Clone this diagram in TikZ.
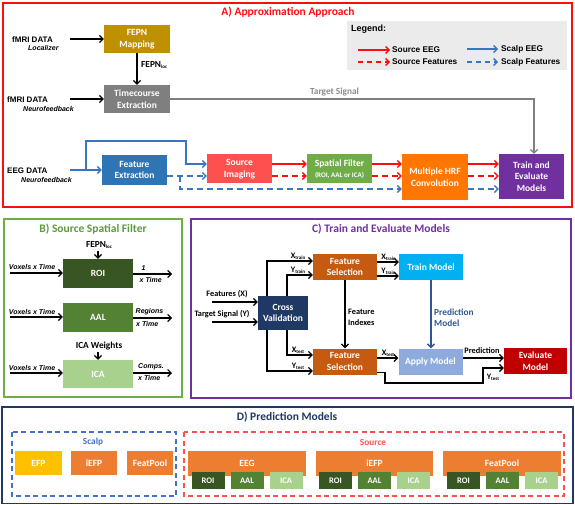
\documentclass[tikz,border=0pt]{standalone}
\usepackage{fontspec}
\setmainfont{Carlito}
\newfontfamily\arialf{Liberation Sans}
\usetikzlibrary{arrows.meta}
\definecolor{cRed}{HTML}{FF0D0D}
\definecolor{cFEPN}{HTML}{BF9000}
\definecolor{cTC}{HTML}{7F7F7F}
\definecolor{cGrayT}{HTML}{8C8C8C}
\definecolor{cFE}{HTML}{2E75B6}
\definecolor{cSI}{HTML}{FF5050}
\definecolor{cSF}{HTML}{70AD47}
\definecolor{cHRF}{HTML}{FF7700}
\definecolor{cTE}{HTML}{7030A0}
\definecolor{cLeg}{HTML}{EBEBEB}
\definecolor{cBlue}{HTML}{3A75C4}
\definecolor{cGreenT}{HTML}{5B9B3C}
\definecolor{cROI}{HTML}{375623}
\definecolor{cAAL}{HTML}{548235}
\definecolor{cICA}{HTML}{A9D18E}
\definecolor{cCV}{HTML}{203864}
\definecolor{cFS}{HTML}{C55A11}
\definecolor{cTM}{HTML}{00B0F0}
\definecolor{cAM}{HTML}{8FAADC}
\definecolor{cEV}{HTML}{C00000}
\definecolor{cDBlue}{HTML}{2F5597}
\definecolor{cNavy}{HTML}{203864}
\definecolor{cScalp}{HTML}{4472C4}
\definecolor{cEFP}{HTML}{FFC000}
\definecolor{cOr}{HTML}{ED7D31}
\newcommand\bxf{\fontsize{9.5}{11.5}\selectfont\bfseries}
\newcommand\ttlf{\fontsize{11.5}{13}\selectfont\bfseries}
\newcommand\lblf{\fontsize{8.3}{9.5}\selectfont\bfseries}
\newcommand\lblnf{\fontsize{9.3}{10.5}\selectfont\bfseries}
\newcommand\arlf{\arialf\fontsize{8}{9}\selectfont\bfseries}
\newcommand\arilf{\arialf\fontsize{7}{8}\selectfont\bfseries\itshape}
\newcommand\legf{\arialf\fontsize{8.3}{9}\selectfont\bfseries}
\newcommand\sbs[1]{\raisebox{-1.3pt}{\fontsize{5}{5}\selectfont #1}}
\tikzset{
 box/.style={text=white, font=\bxf, align=center, inner sep=0pt, draw=none},
 sbox/.style={box, font=\fontsize{8.5}{9}\selectfont\bfseries, minimum width=33pt, minimum height=17pt},
 tip/.style={-{Straight Barb[length=3.5pt,width=7pt]}},
 blk/.style={tip, line width=1.2pt, black},
 rs/.style={tip, line width=1.4pt, cRed},
 rd/.style={rs, dash pattern=on 6pt off 4pt},
 bs/.style={tip, line width=1.4pt, cBlue},
 bd/.style={bs, dash pattern=on 6pt off 4pt},
 lbl/.style={font=\lblf, inner sep=0pt},
 lbln/.style={font=\lblnf, inner sep=0pt},
 ttl/.style={font=\ttlf, inner sep=0pt},
 alab/.style={font=\arlf, inner sep=0pt, anchor=west},
 ailab/.style={font=\arilf, inner sep=0pt},
}
\begin{document}
\begin{tikzpicture}[x=1pt,y=-1pt]
\useasboundingbox (0,0) rectangle (575,505);
\fill[white] (0,0) rectangle (575,505);

% ===== A =====
\draw[cRed, line width=1.5pt] (3,3) rectangle (572,207);
\node[ttl, text=cRed] (ta) at (288,12) {A) Approximation Approach};

\node[box, fill=cFEPN, minimum width=66pt, minimum height=28pt] (fepn) at (137,39) {FEPN\\Mapping};
\node[box, fill=cTC, minimum width=66pt, minimum height=28pt] (tc) at (137,99) {Timecourse\\Extraction};
\node[box, fill=cFE, minimum width=65pt, minimum height=30pt] (fe) at (134.5,170) {Feature\\Extraction};
\node[box, fill=cSI, minimum width=65pt, minimum height=29pt] (si) at (239.5,169) {Source\\Imaging};
\node[box, fill=cSF, minimum width=65pt, minimum height=29pt] (sf) at (339.5,169) {Spatial Filter\\[-1pt]{\fontsize{7}{8}\selectfont (ROI, AAL or ICA)}};
\node[box, fill=cHRF, minimum width=66pt, minimum height=46pt] (hrf) at (435,177) {Multiple HRF\\Convolution};
\node[box, fill=cTE, minimum width=65pt, minimum height=45pt] (te) at (531.5,176.5) {Train and\\Evaluate\\Models};

\node[alab] (f1) at (12,40) {fMRI DATA};
\node[ailab, anchor=west] (f1b) at (28,48.5) {Localizer};
\node[alab] (f2) at (7,99.5) {fMRI DATA};
\node[ailab, anchor=west] (f2b) at (23,109) {Neurofeedback};
\node[alab] (e1) at (7,171) {EEG DATA};
\node[ailab, anchor=west] (e1b) at (21,179.5) {Neurofeedback};

\coordinate (f1o) at (70,39);
\coordinate (f2o) at (70,99);
\draw[blk] (f1o) -- (fepn);
\draw[blk] (f2o) -- (tc);
\draw[blk] (fepn) -- (tc);
\node[lbln, anchor=west] (fepnl) at (141,65) {FEPN\sbs{loc}};

\coordinate (tg) at (534,99);
\draw[tip, line width=1.2pt, cTC] (tc.east) -- (tg) -- (tg |- te.north);
\node[lbln, text=cGrayT] (tgl) at (334.5,92) {Target Signal};

% legend
\node[fill=cLeg, inner sep=0pt, minimum width=220pt, minimum height=49pt, anchor=north west] (leg) at (347,21) {};
\node[font=\arialf\fontsize{9}{10}\selectfont\bfseries, inner sep=0pt, anchor=west] (legt) at (351,29.5) {Legend:};
\coordinate (l1a) at (358,50); \coordinate (l1b) at (390,50);
\coordinate (l2a) at (358,62); \coordinate (l2b) at (390,62);
\coordinate (l3a) at (467,49); \coordinate (l3b) at (498,49);
\coordinate (l4a) at (467,62); \coordinate (l4b) at (498,62);
\draw[rs] (l1a) -- (l1b);
\draw[rd, dash pattern=on 5pt off 4pt] (l2a) -- (l2b);
\draw[bs] (l3a) -- (l3b);
\draw[bd, dash pattern=on 5pt off 4pt] (l4a) -- (l4b);
\node[font=\legf, inner sep=0pt, anchor=west] (l1t) at (392,50) {Source EEG};
\node[font=\legf, inner sep=0pt, anchor=west] (l2t) at (392,62) {Source Features};
\node[font=\legf, inner sep=0pt, anchor=west] (l3t) at (501,49) {Scalp EEG};
\node[font=\legf, inner sep=0pt, anchor=west] (l4t) at (501,62) {Scalp Features};

% bottom row connectors
\coordinate (ys) at (0,164);
\coordinate (yd) at (0,176);
\coordinate (yb) at (0,189);
\coordinate (e0) at (70,170);
\draw[bs] (e0) -- (fe);
\coordinate (eb1) at (86,170);
\coordinate (eb2) at (86,141);
\coordinate (eb3) at (186,141);
\coordinate (eb4) at (186,164);
\draw[bs] (eb1) -- (eb2) -- (eb3) -- (eb4) -- (si.west |- eb4);
\draw[bd] (fe.east |- yd) -- (si.west |- yd);
\coordinate (bb1) at (180,176);
\coordinate (bb2) at (180,189);
\draw[bd] (bb1) -- (bb2) -- (hrf.west |- yb);
\draw[bd] (hrf.east |- yb) -- (te.west |- yb);
\draw[rs] (si.east |- ys) -- (sf.west |- ys);
\draw[rd] (si.east |- yd) -- (sf.west |- yd);
\draw[rs] (sf.east |- ys) -- (hrf.west |- ys);
\draw[rd] (sf.east |- yd) -- (hrf.west |- yd);
\draw[rs] (hrf.east |- ys) -- (te.west |- ys);
\draw[rd] (hrf.east |- yd) -- (te.west |- yd);

% ===== B =====
\draw[cSF, line width=1.5pt] (4,219) rectangle (182,397);
\node[ttl, text=cGreenT] (tb) at (93,229) {B) Source Spatial Filter};
\node[box, fill=cROI, minimum width=70pt, minimum height=29pt] (roi) at (98,273.5) {ROI};
\node[box, fill=cAAL, minimum width=70pt, minimum height=29pt] (aal) at (98,317.5) {AAL};
\node[box, fill=cICA, minimum width=70pt, minimum height=28pt] (ica) at (98,374) {ICA};
\node[lbln] (bfepn) at (99,245) {FEPN\sbs{loc}};
\node[lbln] (icaw) at (99,346) {ICA Weights};
\coordinate (bf1) at (98,251);
\coordinate (bf2) at (98,352);
\draw[blk] (bf1) -- (roi);
\draw[blk] (bf2) -- (ica);
\node[ailab] (v1) at (32,267) {Voxels x Time};
\node[ailab] (v2) at (32,312) {Voxels x Time};
\node[ailab] (v3) at (32,368) {Voxels x Time};
\coordinate (v1o) at (10,273);
\coordinate (v2o) at (10,317);
\coordinate (v3o) at (10,373);
\draw[blk] (v1o) -- (v1o -| roi.west);
\draw[blk] (v2o) -- (v2o -| aal.west);
\draw[blk] (v3o) -- (v3o -| ica.west);
\coordinate (r1o) at (172,274);
\coordinate (r2o) at (172,318);
\coordinate (r3o) at (172,373);
\draw[blk] (roi.east |- r1o) -- (r1o);
\draw[blk] (aal.east |- r2o) -- (r2o);
\draw[blk] (ica.east |- r3o) -- (r3o);
\node[ailab, anchor=west] (r1a) at (141.5,268) {1};
\node[ailab, anchor=west] (r1b) at (139.5,280) {x Time};
\node[ailab, anchor=west] (r2a) at (135.5,312) {Regions};
\node[ailab, anchor=west] (r2b) at (136,323.5) {x Time};
\node[ailab, anchor=west] (r3a) at (138,367) {Comps.};
\node[ailab, anchor=west] (r3b) at (138,378) {x Time};

% ===== C =====
\draw[cTE, line width=1.8pt] (191,219) rectangle (571,398);
\node[ttl, text=cTE] (tcc) at (381,229) {C) Train and Evaluate Models};
\node[box, fill=cCV, minimum width=50pt, minimum height=34pt] (cv) at (283,313) {Cross\\Validation};
\node[box, fill=cFS, minimum width=64pt, minimum height=26pt] (fs1) at (345,267) {Feature\\Selection};
\node[box, fill=cFS, minimum width=64pt, minimum height=26pt] (fs2) at (345,361.5) {Feature\\Selection};
\node[box, fill=cTM, minimum width=64pt, minimum height=26pt] (tm) at (431,267) {Train Model};
\node[box, fill=cAM, minimum width=64pt, minimum height=26pt] (am) at (430.5,361.5) {Apply Model};
\node[box, fill=cEV, minimum width=63pt, minimum height=26pt] (ev) at (535.5,361) {Evaluate\\Model};

\coordinate (fx) at (212,302);
\coordinate (ty) at (212,322);
\draw[blk] (fx) -- (fx -| cv.west);
\draw[blk] (ty) -- (ty -| cv.west);
\node[lbl] (fxl) at (227,294) {Features (X)};
\node[lbl] (tyl) at (222,314) {Target Signal (Y)};

\coordinate (c1) at (267,261);
\coordinate (c2) at (287,275);
\coordinate (c3) at (287,355);
\coordinate (c4) at (267,371);
\draw[blk] (c1 |- cv.north) -- (c1) -- (c1 -| fs1.west);
\draw[blk] (c2 |- cv.north) -- (c2) -- (c2 -| fs1.west);
\draw[blk] (c3 |- cv.south) -- (c3) -- (c3 -| fs2.west);
\draw[blk] (c4 |- cv.south) -- (c4) -- (c4 -| fs2.west);
\node[lbl] (xtr1) at (298,256.5) {X\sbs{train}};
\node[lbl] (ytr1) at (298,270.5) {Y\sbs{train}};
\node[lbl] (xte1) at (298,350.5) {X\sbs{test}};
\node[lbl] (yte1) at (298,366.5) {Y\sbs{test}};

\draw[blk] (fs1) -- (fs2);
\node[lbl, anchor=west] (fil1) at (348,312) {Feature};
\node[lbl, anchor=west] (fil2) at (348,322.5) {Indexes};

\coordinate (t1) at (0,262);
\coordinate (t2) at (0,276);
\coordinate (t3) at (0,358);
\draw[blk] (fs1.east |- t1) -- (tm.west |- t1);
\draw[blk] (fs1.east |- t2) -- (tm.west |- t2);
\node[lbl] (xtr2) at (388.5,257) {X\sbs{train}};
\node[lbl] (ytr2) at (388.5,271) {Y\sbs{train}};
\draw[tip, line width=1.4pt, cDBlue] (tm) -- (tm |- am.north);
\node[lbln, text=cDBlue, anchor=west] (pm1) at (434,312) {Prediction};
\node[lbln, text=cDBlue, anchor=west] (pm2) at (434,323) {Model};
\draw[blk] (fs2.east |- t3) -- (am.west |- t3);
\node[lbl] (xte2) at (388,353) {X\sbs{test}};
\draw[blk] (am.east |- t3) -- (ev.west |- t3);
\node[lbl] (predl) at (482,350.5) {Prediction};
\coordinate (y1) at (385,372.5);
\coordinate (y2) at (385,383);
\coordinate (y3) at (483,383);
\coordinate (y4) at (483,368);
\draw[blk] (fs2.east |- y1) -- (y1) -- (y2) -- (y3) -- (y4) -- (ev.west |- y4);
\node[lbl] (yte2) at (493,377.5) {Y\sbs{test}};

% ===== D =====
\draw[cNavy, line width=1.5pt] (2,407) rectangle (573,503.5);
\node[ttl, text=cNavy] (td) at (287,417) {D) Prediction Models};
\draw[cScalp, line width=1.3pt, dash pattern=on 5pt off 3.5pt] (12,432) rectangle (176,496);
\draw[cSI, line width=1.3pt, dash pattern=on 5pt off 3.5pt] (184,432) rectangle (564,496);
\node[lbln, text=cScalp] (scl) at (93,442) {Scalp};
\node[lbln, text=cSI] (srl) at (373,442) {Source};
\node[box, fill=cEFP, minimum width=47pt, minimum height=24pt] (efp) at (38.5,463) {EFP};
\node[box, fill=cOr, minimum width=46pt, minimum height=24pt] (iefps) at (94,463) {iEFP};
\node[box, fill=cOr, minimum width=46pt, minimum height=24pt] (fps) at (150,463) {FeatPool};

\node[box, fill=cOr, minimum width=118pt, minimum height=25pt] (eeg) at (247,463.5) {EEG};
\node[box, fill=cOr, minimum width=117pt, minimum height=25pt] (iefp) at (374.5,463.5) {iEFP};
\node[box, fill=cOr, minimum width=118pt, minimum height=25pt] (fp) at (502,463.5) {FeatPool};

\node[sbox, fill=cROI] (eroi) at (208,480.5) {ROI};
\node[sbox, fill=cAAL] (eaal) at (247,480.5) {AAL};
\node[sbox, fill=cICA] (eica) at (286,480.5) {ICA};
\node[sbox, fill=cROI] (iroi) at (335.5,480.5) {ROI};
\node[sbox, fill=cAAL] (iaal) at (374.5,480.5) {AAL};
\node[sbox, fill=cICA] (iica) at (413.5,480.5) {ICA};
\node[sbox, fill=cROI] (froi) at (463.5,480.5) {ROI};
\node[sbox, fill=cAAL] (faal) at (502.5,480.5) {AAL};
\node[sbox, fill=cICA] (fica) at (541.5,480.5) {ICA};
\end{tikzpicture}
\end{document}
